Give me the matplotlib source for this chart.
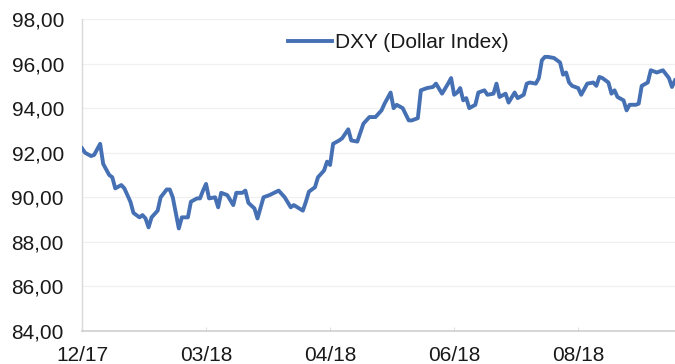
#!/usr/bin/env python3

from matplotlib import pyplot as plt

plt.rcParams["font.family"] = ["Liberation Sans", "DejaVu Sans"]

# trading-day offset from the first point, and DXY close
day_idx = [0, 1, 3, 4, 6, 7, 9, 10, 11, 13, 14, 16, 17, 19, 20, 21, 22, 23, 25, 26,
           28, 29, 30, 31, 32, 33, 35, 36, 38, 39, 40, 41, 42, 44, 45, 46, 48, 50, 51, 53,
           54, 55, 57, 58, 60, 62, 65, 67, 69, 70, 73, 74, 75, 77, 78, 80, 81, 82, 83, 85,
           86, 88, 89, 91, 93, 95, 97, 99, 100, 102, 103, 104, 106, 108, 109, 111, 112, 114, 116, 117,
           119, 121, 122, 123, 124, 125, 126, 127, 128, 130, 131, 133, 134, 136, 137, 138, 140, 141, 143, 144,
           146, 147, 148, 150, 151, 152, 153, 154, 156, 158, 159, 160, 161, 162, 164, 165, 167, 169, 170, 171,
           172, 174, 175, 176, 177, 179, 180, 181, 183, 184, 185, 187, 188, 190, 192, 194, 195, 196]
dxy_values = [92.2, 92.0, 91.85, 91.9, 92.4, 91.5, 91.0, 90.9, 90.4, 90.55, 90.4, 89.8, 89.3, 89.1, 89.2, 89.05, 88.65, 89.1, 89.4, 90.0,
              90.35, 90.35, 90.0, 89.3, 88.6, 89.1, 89.1, 89.8, 89.95, 89.95, 90.3, 90.6, 89.95, 90.0, 89.55, 90.2, 90.1, 89.65, 90.2, 90.2,
              90.3, 89.75, 89.5, 89.05, 90.0, 90.1, 90.3, 90.0, 89.55, 89.65, 89.4, 89.8, 90.25, 90.45, 90.9, 91.2, 91.6, 91.45, 92.4, 92.55,
              92.65, 93.05, 92.55, 92.5, 93.3, 93.6, 93.6, 93.9, 94.2, 94.7, 94.0, 94.15, 94.0, 93.45, 93.45, 93.55, 94.8, 94.9, 94.95, 95.1,
              94.65, 95.1, 95.35, 94.6, 94.7, 94.9, 94.35, 94.45, 94.0, 94.15, 94.7, 94.8, 94.6, 94.65, 95.1, 94.5, 94.65, 94.25, 94.7, 94.45,
              94.6, 95.1, 95.15, 95.1, 95.35, 96.15, 96.3, 96.3, 96.25, 96.05, 95.5, 95.6, 95.15, 95.0, 94.9, 94.6, 95.1, 95.15, 95.0, 95.4,
              95.35, 95.15, 94.65, 94.8, 94.5, 94.35, 93.9, 94.15, 94.15, 94.2, 95.0, 95.15, 95.7, 95.6, 95.7, 95.35, 94.95, 95.25]

x_tick_pos = [0, 41, 82, 123, 164]
x_tick_labels = ["12/17", "03/18", "04/18", "06/18", "08/18"]
y_ticks = [84, 86, 88, 90, 92, 94, 96, 98]

LINE_COLOR = "#4670b4"
TEXT_COLOR = "#1a1a1a"


def plot_dxy():
	fig = plt.figure(figsize=(6.75, 3.64), dpi=100)
	ax = fig.add_axes([82 / 675, 1 - 331 / 364, 1 - 82 / 675, (331 - 19) / 364])

	ax.plot(day_idx, dxy_values, color=LINE_COLOR, linewidth=2.8,
		solid_joinstyle="round", label="DXY (Dollar Index)", zorder=3)

	ax.set_xlim(0, 196)
	ax.set_ylim(84, 98)
	ax.set_xticks(x_tick_pos)
	ax.set_xticklabels(x_tick_labels)
	ax.set_yticks(y_ticks)
	ax.set_yticklabels(["{:.2f}".format(v).replace(".", ",") for v in y_ticks])

	ax.grid(axis="y", color="#f0f0f0", linewidth=0.9, zorder=0)
	for side in ("top", "right"):
		ax.spines[side].set_visible(False)
	ax.spines["left"].set_color("#d9d9d9")
	ax.spines["bottom"].set_color("#cfcfcf")
	ax.spines["left"].set_linewidth(1.0)
	ax.spines["bottom"].set_linewidth(1.2)

	ax.tick_params(axis="y", length=0, pad=13, labelsize=15, labelcolor=TEXT_COLOR)
	ax.tick_params(axis="x", direction="in", length=3, color="#e0e0e0", pad=11,
		labelsize=15, labelcolor=TEXT_COLOR)

	ax.legend(loc="center left", bbox_to_anchor=(288 / 675, 1 - 43 / 364),
		bbox_transform=fig.transFigure, frameon=False, borderpad=0, borderaxespad=0,
		handlelength=2.1, handletextpad=0.15, fontsize=15, labelcolor=TEXT_COLOR)

	plt.savefig("out.png", dpi=100)
	plt.close()


if __name__ == "__main__":
	plot_dxy()
